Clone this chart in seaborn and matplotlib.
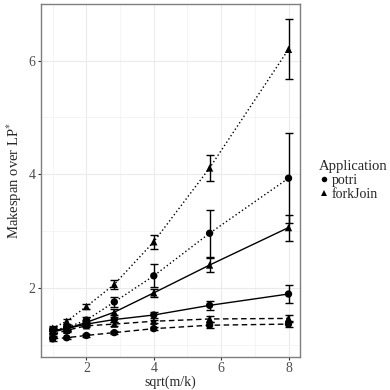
import numpy as np
import pandas as pd
import seaborn as sns
import matplotlib.pyplot as plt

# x positions: sqrt(m/k)
ratio = [1.0, 1.414, 2.0, 2.828, 4.0, 5.657, 8.0]

# mean makespan / LP* per series (application, line type)
potri_solid = [1.25, 1.28, 1.36, 1.44, 1.52, 1.69, 1.89]
potri_dashed = [1.10, 1.12, 1.16, 1.21, 1.28, 1.34, 1.36]
potri_dotted = [1.25, 1.30, 1.43, 1.75, 2.21, 2.96, 3.93]
fork_solid = [1.22, 1.28, 1.39, 1.57, 1.91, 2.40, 3.06]
fork_dashed = [1.18, 1.25, 1.33, 1.36, 1.41, 1.45, 1.46]
fork_dotted = [1.29, 1.41, 1.67, 2.06, 2.81, 4.11, 6.20]

# standard deviations (error bars)
potri_solid_sd = [0.04, 0.04, 0.04, 0.05, 0.05, 0.08, 0.16]
potri_dashed_sd = [0.03, 0.02, 0.02, 0.03, 0.03, 0.05, 0.06]
potri_dotted_sd = [0.05, 0.05, 0.06, 0.09, 0.20, 0.41, 0.79]
fork_solid_sd = [0.04, 0.04, 0.05, 0.05, 0.07, 0.12, 0.23]
fork_dashed_sd = [0.03, 0.03, 0.03, 0.03, 0.03, 0.05, 0.06]
fork_dotted_sd = [0.03, 0.04, 0.04, 0.08, 0.12, 0.23, 0.53]

series = [
    ("potri", "solid", potri_solid, potri_solid_sd),
    ("potri", "dashed", potri_dashed, potri_dashed_sd),
    ("potri", "dotted", potri_dotted, potri_dotted_sd),
    ("forkJoin", "solid", fork_solid, fork_solid_sd),
    ("forkJoin", "dashed", fork_dashed, fork_dashed_sd),
    ("forkJoin", "dotted", fork_dotted, fork_dotted_sd),
]

rows = []
for app, lt, vals, sds in series:
    for x, y, s in zip(ratio, vals, sds):
        rows.append({"x": x, "y": y, "sd": s, "Application": app,
                     "kind": app + "-" + lt, "lt": lt})
df = pd.DataFrame(rows)

sns.set_theme(style="whitegrid")
plt.rcParams["font.family"] = ["Liberation Serif", "DejaVu Serif"]
plt.rcParams["mathtext.fontset"] = "stix"

fig = plt.figure(figsize=(3.9, 3.9), dpi=100)
ax = fig.add_axes([0.105, 0.085, 0.665, 0.905])

dash_map = {"solid": "", "dashed": (4, 2.5), "dotted": (1, 1.8)}
kinds = df["kind"].unique()
dashes = {k: dash_map[k.split("-")[1]] for k in kinds}
sns.lineplot(data=df, x="x", y="y", style="kind", dashes=dashes,
             color="black", linewidth=1.0, legend=False, ax=ax, sort=True)

for _, g in df.groupby("kind"):
    ax.errorbar(g["x"], g["y"], yerr=g["sd"], fmt="none", ecolor="black",
                elinewidth=1.0, capsize=3, capthick=1.0, zorder=3)

sns.scatterplot(data=df, x="x", y="y", style="Application",
                markers={"potri": "o", "forkJoin": "^"},
                style_order=["potri", "forkJoin"], color="black",
                s=28, edgecolor="black", linewidth=0, ax=ax, zorder=4)

ax.set_xlim(0.65, 8.35)
ax.set_ylim(0.783, 7.0)
ax.set_xticks([2, 4, 6, 8])
ax.set_yticks([2, 4, 6])
ax.set_xticks([1, 3, 5, 7], minor=True)
ax.set_yticks([1, 3, 5], minor=True)
ax.grid(True, which="major", color="#ebebeb", linewidth=0.8)
ax.grid(True, which="minor", color="#f2f2f2", linewidth=0.5)
for sp in ax.spines.values():
    sp.set_color("#7f7f7f")
    sp.set_linewidth(1.0)
ax.tick_params(axis="both", which="major", length=2.5, width=0.8, color="#333333",
               labelsize=10, labelcolor="#4d4d4d", pad=1.5, bottom=True, left=True)
ax.tick_params(axis="both", which="minor", length=0)
ax.set_xlabel("sqrt(m/k)", fontsize=10, labelpad=0)
ax.set_ylabel("Makespan over LP$^{*}$", fontsize=10.5, labelpad=3)

leg = ax.legend(title="Application", loc="center left", bbox_to_anchor=(1.045, 0.50),
                frameon=False, fontsize=10, title_fontsize=10.5,
                handletextpad=0.1, labelspacing=0.05, borderpad=0, handlelength=0.8,
                markerscale=0.75)
leg._legend_box.align = "left"

fig.savefig("out.png", dpi=100)
